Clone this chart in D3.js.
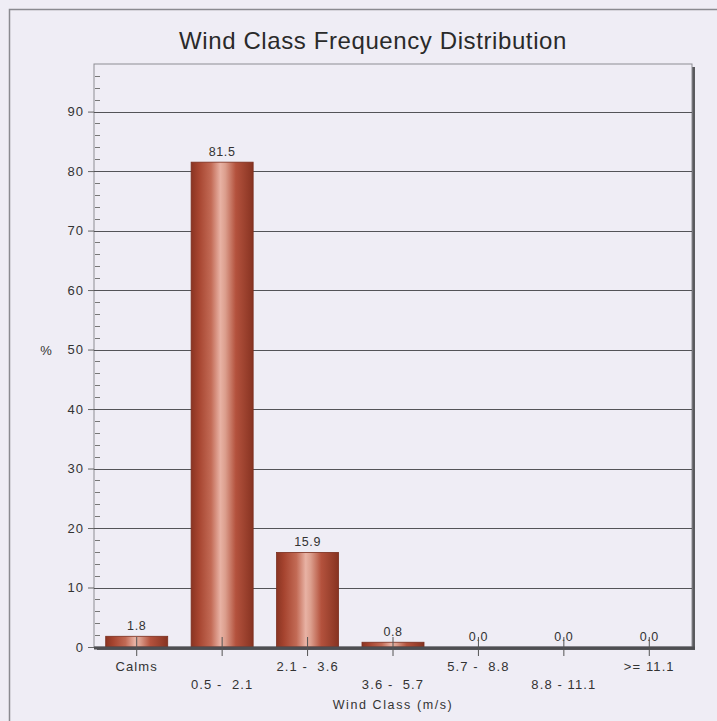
<!DOCTYPE html>
<html>
<head>
<meta charset="utf-8">
<script src="https://cdn.jsdelivr.net/npm/d3@7"></script>
<style>
  body { margin: 0; background: #efedf5; }
  svg { display: block; font-family: "Liberation Sans", Arial, sans-serif; }
  text { white-space: pre; }
</style>
</head>
<body>
<svg id="chart" width="717" height="721"></svg>
<script>
var categories = ["Calms", "0.5 -  2.1", "2.1 -  3.6", "3.6 -  5.7", "5.7 -  8.8", "8.8 - 11.1", ">= 11.1"];
var values = [1.8, 81.5, 15.9, 0.8, 0.0, 0.0, 0.0];
var yTicks = [0, 10, 20, 30, 40, 50, 60, 70, 80, 90];
var yMinorTicks = d3.range(0, 98, 2).filter(v => v % 10 !== 0);

var title = "Wind Class Frequency Distribution";
var xTitle = "Wind Class (m/s)";
var yTitle = "%";

var svg = d3.select("#chart"),
  margin = { top: 64, right: 25, bottom: 74, left: 94 },
  width = +svg.attr("width") - margin.left - margin.right,
  height = +svg.attr("height") - margin.top - margin.bottom;

// outer frame
svg.append("rect")
  .attr("x", 9.5).attr("y", 9.5)
  .attr("width", 730).attr("height", 730)
  .attr("fill", "#efedf5")
  .attr("stroke", "#8a8a90")
  .attr("stroke-width", 1.5);

svg.append("text")
  .attr("x", 373)
  .attr("y", 49)
  .attr("text-anchor", "middle")
  .attr("font-size", 24)
  .attr("letter-spacing", 0.6)
  .attr("fill", "#2a2a2a")
  .text(title);

var defs = svg.append("defs");
var grad = defs.append("linearGradient").attr("id", "barGrad")
  .attr("x1", "0%").attr("x2", "100%").attr("y1", "0%").attr("y2", "0%");
[["0%", "#8a3422"], ["12%", "#a6442f"], ["32%", "#c26a55"], ["47%", "#e8b2a4"],
 ["55%", "#dc9f8e"], ["72%", "#b4523d"], ["100%", "#873321"]].forEach(function(s) {
  grad.append("stop").attr("offset", s[0]).attr("stop-color", s[1]);
});

var g = svg.append("g").attr("transform", "translate(" + margin.left + "," + margin.top + ")");

var x = d3.scaleBand()
  .domain(categories)
  .range([0, width])
  .paddingInner(0.274)
  .paddingOuter(0.137);

var y = d3.scaleLinear()
  .domain([0, 98])
  .range([height, 0]);

// plot shadow + area
g.append("rect")
  .attr("x", 3).attr("y", 3)
  .attr("width", width).attr("height", height)
  .attr("fill", "#5a5a5e");
g.append("rect")
  .attr("x", 0).attr("y", 0)
  .attr("width", width).attr("height", height)
  .attr("fill", "#efedf5")
  .attr("stroke", "#8d8d93")
  .attr("stroke-width", 1);

// grid lines
g.append("g")
  .selectAll("line")
  .data(yTicks.filter(d => d > 0))
  .join("line")
    .attr("x1", 0).attr("x2", width)
    .attr("y1", d => Math.round(y(d)) + 0.5)
    .attr("y2", d => Math.round(y(d)) + 0.5)
    .attr("stroke", "#535357")
    .attr("stroke-width", 1.2);

// y axis
var yAxis = g.append("g")
  .call(d3.axisLeft(y).tickValues(yTicks).tickSize(6).tickPadding(4).tickFormat(d3.format("d")));
yAxis.select(".domain").remove();
yAxis.selectAll("line").attr("stroke", "#666");
yAxis.selectAll("text")
  .attr("font-size", 13)
  .attr("letter-spacing", 1)
  .attr("fill", "#333")
  .attr("font-family", "Liberation Sans, Arial, sans-serif");

g.append("g")
  .selectAll("line")
  .data(yMinorTicks)
  .join("line")
    .attr("x1", 1).attr("x2", 6)
    .attr("y1", d => Math.round(y(d)) + 0.5)
    .attr("y2", d => Math.round(y(d)) + 0.5)
    .attr("stroke", "#777");

g.append("text")
  .attr("x", 46 - margin.left)
  .attr("y", y(50) + 5)
  .attr("text-anchor", "middle")
  .attr("font-size", 13)
  .attr("fill", "#333")
  .text(yTitle);

// bars
g.append("g")
  .selectAll("rect")
  .data(values)
  .join("rect")
    .attr("x", (d, i) => x(categories[i]))
    .attr("y", d => y(d))
    .attr("width", x.bandwidth())
    .attr("height", d => y(0) - y(d))
    .attr("fill", "url(#barGrad)")
    .attr("stroke", "#7a2e1e")
    .attr("stroke-width", 0.8);

// baseline
g.append("line")
  .attr("x1", 0).attr("x2", width + 3)
  .attr("y1", height + 1).attr("y2", height + 1)
  .attr("stroke", "#4e4e52")
  .attr("stroke-width", 3);

// value labels
g.append("g")
  .selectAll("text")
  .data(values)
  .join("text")
    .attr("x", (d, i) => x(categories[i]) + x.bandwidth() / 2)
    .attr("y", d => y(d) - 6)
    .attr("text-anchor", "middle")
    .attr("font-size", 12.5)
    .attr("letter-spacing", 0.6)
    .attr("fill", "#333")
    .text(d => d.toFixed(1));

// x ticks and staggered labels
var xt = g.append("g")
  .selectAll("g")
  .data(categories)
  .join("g")
    .attr("transform", d => "translate(" + (x(d) + x.bandwidth() / 2) + ",0)");
xt.append("line")
  .attr("y1", height - 10).attr("y2", height + 9)
  .attr("stroke", "#555");
xt.append("text")
  .attr("y", (d, i) => height + (i % 2 === 0 ? 24 : 42))
  .attr("text-anchor", "middle")
  .attr("font-size", 13)
  .attr("letter-spacing", 1.1)
  .attr("fill", "#333")
  .text(d => d);

g.append("text")
  .attr("x", width / 2)
  .attr("y", height + 62)
  .attr("text-anchor", "middle")
  .attr("font-size", 12.5)
  .attr("letter-spacing", 1.6)
  .attr("fill", "#333")
  .text(xTitle);
</script>
</body>
</html>
